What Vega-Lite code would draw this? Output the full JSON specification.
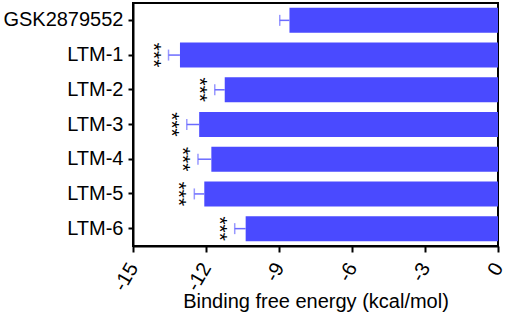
{
  "$schema": "https://vega.github.io/schema/vega-lite/v6.json",
  "width": 365,
  "height": 243,
  "autosize": "none",
  "padding": {"left": 133, "top": 3, "right": 7, "bottom": 70},
  "config": {
    "view": {"stroke": "black", "strokeWidth": 2},
    "font": "Liberation Sans"
  },
  "data": {
    "values": [
      {"compound": "GSK2879552", "energy": -8.57, "low": -8.97, "sig": ""},
      {"compound": "LTM-1", "energy": -13.07, "low": -13.54, "sig": "***"},
      {"compound": "LTM-2", "energy": -11.23, "low": -11.64, "sig": "***"},
      {"compound": "LTM-3", "energy": -12.28, "low": -12.79, "sig": "***"},
      {"compound": "LTM-4", "energy": -11.78, "low": -12.33, "sig": "***"},
      {"compound": "LTM-5", "energy": -12.07, "low": -12.48, "sig": "***"},
      {"compound": "LTM-6", "energy": -10.37, "low": -10.82, "sig": "***"}
    ]
  },
  "encoding": {
    "y": {
      "field": "compound",
      "type": "nominal",
      "sort": null,
      "scale": {"paddingInner": 0.28, "paddingOuter": 0.14},
      "axis": {
        "title": null,
        "domainColor": "black",
        "domainWidth": 2,
        "tickColor": "black",
        "tickWidth": 2,
        "tickSize": 5,
        "labelFontSize": 20,
        "labelColor": "black",
        "labelPadding": 5
      }
    }
  },
  "layer": [
    {
      "mark": {"type": "bar", "color": "#4a4aff"},
      "encoding": {
        "x": {
          "field": "energy",
          "type": "quantitative",
          "scale": {"domain": [-15, 0], "nice": false},
          "axis": {
            "title": "Binding free energy (kcal/mol)",
            "titleFontSize": 20,
            "titleFontWeight": "normal",
            "titleColor": "black",
            "titlePadding": -3,
            "values": [-15, -12, -9, -6, -3, 0],
            "labelExpr": "datum.value == 0 ? '0' : '-' + abs(datum.value)",
            "grid": false,
            "domainColor": "black",
            "domainWidth": 2,
            "tickColor": "black",
            "tickWidth": 2,
            "tickSize": 6,
            "labelFontSize": 20,
            "labelColor": "black",
            "labelAngle": -60,
            "labelPadding": 12
          }
        }
      }
    },
    {
      "mark": {"type": "rule", "color": "#6c6cff", "strokeWidth": 1.5},
      "encoding": {
        "x": {"field": "energy", "type": "quantitative"},
        "x2": {"field": "low"}
      }
    },
    {
      "mark": {"type": "tick", "color": "#6c6cff", "thickness": 1.5, "size": 11, "orient": "vertical"},
      "encoding": {
        "x": {"field": "low", "type": "quantitative"}
      }
    },
    {
      "mark": {"type": "text", "angle": 90, "align": "center", "baseline": "middle", "fontSize": 21, "fontWeight": "normal", "dy": 16, "dx": 0, "color": "black"},
      "encoding": {
        "x": {"field": "low", "type": "quantitative"},
        "text": {"field": "sig"}
      }
    }
  ]
}
